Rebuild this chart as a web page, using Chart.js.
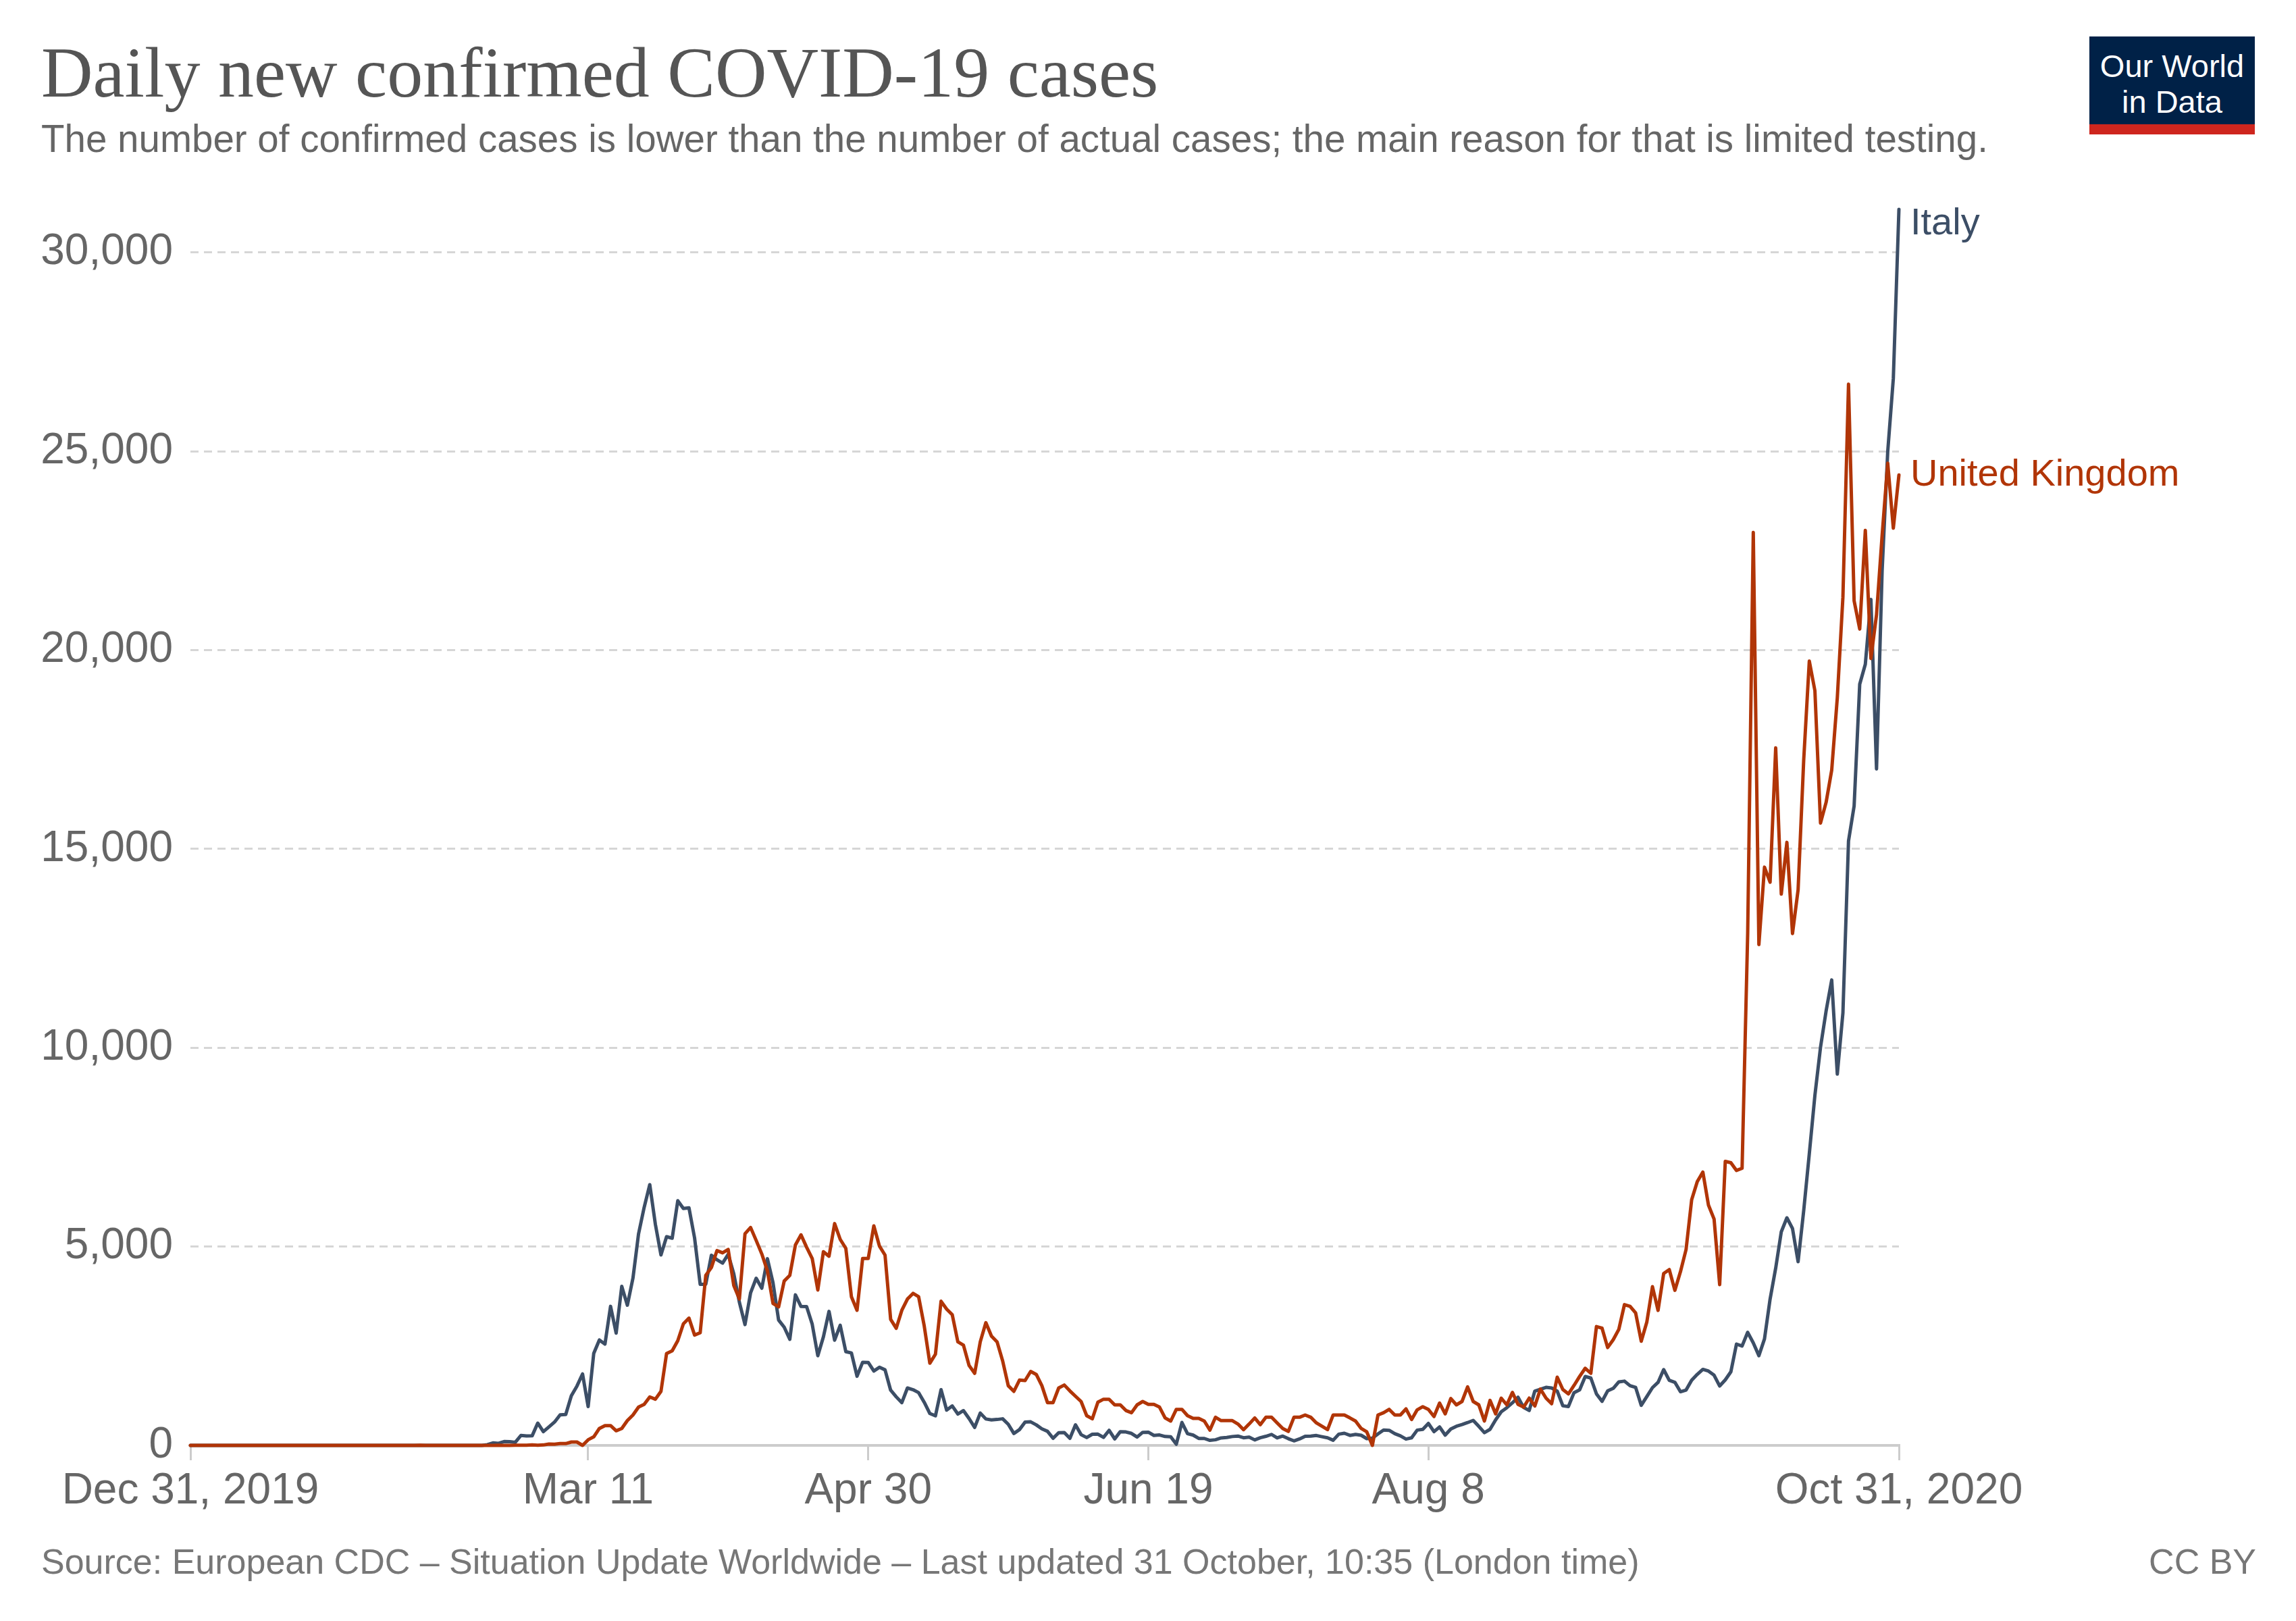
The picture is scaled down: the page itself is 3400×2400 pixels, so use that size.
<!DOCTYPE html>
<html>
<head>
<meta charset="utf-8">
<title>Daily new confirmed COVID-19 cases</title>
<script src="https://cdn.jsdelivr.net/npm/chart.js@4.4.1/dist/chart.umd.min.js"></script>
<style>
  html,body{margin:0;padding:0;background:#fff;}
  body{width:3400px;height:2400px;position:relative;overflow:hidden;font-family:"Liberation Sans",Arial,sans-serif;}
  #chart{position:absolute;left:0;top:0;}
  .txt{position:absolute;white-space:nowrap;line-height:1;}
  #title{left:61px;top:55px;font-family:"Liberation Serif",serif;font-size:106px;color:#555;}
  #subtitle{left:61px;top:178px;font-size:56.5px;color:#666;}
  #source{left:61px;top:2286px;font-size:52px;color:#777;}
  #licence{right:59px;top:2286px;font-size:52px;color:#777;}
  #logo{position:absolute;left:3094px;top:54px;width:245px;height:130px;background:#002147;border-bottom:15px solid #ce261e;
        color:#fff;font-size:47px;line-height:53px;text-align:center;box-sizing:content-box;}
  #logo div{padding-top:17px;}
</style>
</head>
<body>
<canvas id="chart" width="3400" height="2400"></canvas>
<div class="txt" id="title">Daily new confirmed COVID-19 cases</div>
<div class="txt" id="subtitle">The number of confirmed cases is lower than the number of actual cases; the main reason for that is limited testing.</div>
<div class="txt" id="source">Source: European CDC – Situation Update Worldwide – Last updated 31 October, 10:35 (London time)</div>
<div class="txt" id="licence">CC BY</div>
<div id="logo"><div>Our World<br>in Data</div></div>
<script>
// days counted from Dec 31, 2019 (day 0) to Oct 31, 2020 (day 305)
const tickDays = [0, 71, 121, 171, 221, 305];
const tickLabels = ['Dec 31, 2019', 'Mar 11', 'Apr 30', 'Jun 19', 'Aug 8', 'Oct 31, 2020'];
const yTicks = [0, 5000, 10000, 15000, 20000, 25000, 30000];
const seriesNames = ['Italy', 'United Kingdom'];
const seriesColors = ['#3c4e66', '#b13507'];

// daily new confirmed cases, one value per day
const italyCases = [
  0,0,0,0,0,0,0,0,0,0,
  0,0,0,0,0,0,0,0,0,0,
  0,0,0,0,0,0,0,0,0,0,
  0,2,0,0,0,0,0,0,1,0,
  0,0,0,0,0,0,0,0,0,0,
  0,0,0,17,62,53,97,93,78,250,
  238,240,561,347,466,587,769,778,1247,1492,
  1797,977,2313,2651,2547,3497,2823,4000,3526,4207,
  5322,5986,6557,5560,4789,5249,5210,6153,5959,5974,
  5217,4050,4053,4782,4668,4585,4805,4316,3599,3039,
  3836,4204,3951,4694,4092,3153,2972,2667,3786,3493,
  3491,3047,2256,2729,3370,2646,3021,2357,2324,1739,
  2091,2086,1872,1965,1900,1389,1221,1075,1444,1401,
  1327,1083,802,744,1402,888,992,789,875,675,
  451,813,665,642,652,669,531,300,397,584,
  593,516,416,355,178,318,321,177,518,270,
  197,280,283,202,379,163,346,338,301,210,
  329,333,251,262,224,218,30,577,296,259,
  175,174,126,142,187,201,223,235,192,208,
  138,193,229,276,188,234,169,114,163,230,
  233,249,219,190,129,282,306,252,275,255,
  170,181,289,386,379,295,239,159,190,384,
  402,552,347,463,259,412,481,523,574,629,
  479,320,403,642,845,947,1071,1210,953,878,
  1367,1411,1460,1444,1365,996,978,1326,1397,1733,
  1694,1297,1108,1370,1434,1597,1616,1501,1458,1008,
  1229,1452,1585,1907,1638,1587,1350,1392,1640,1786,
  1912,1869,1766,1494,1648,1851,2548,2499,2844,2578,
  2257,2677,3678,4458,5372,5724,5456,4619,5901,7332,
  8804,10010,10925,11705,9338,10874,15199,16079,19143,19644,
  21273,17012,21994,24991,26831,31084
];

const ukCases = [
  0,0,0,0,0,0,0,0,0,0,
  0,0,0,0,0,0,0,0,0,0,
  0,0,0,0,0,0,0,0,0,0,
  0,2,0,0,0,0,0,1,0,0,
  0,4,0,0,1,0,0,0,0,0,
  0,0,0,0,0,4,0,0,3,4,
  5,13,4,11,34,29,46,46,85,85,
  0,142,215,425,498,498,368,425,623,765,
  963,1031,1218,1161,1359,2311,2379,2634,3058,3200,
  2775,2832,4276,4474,4899,4842,4927,4021,3681,5323,
  5480,5153,4814,4389,3568,3483,4134,4276,5040,5295,
  4983,4700,3908,4871,4757,5578,5181,4955,3738,3398,
  4700,4700,5521,5012,4785,3171,2945,3398,3681,3823,
  3738,3002,2067,2294,3625,3426,3285,2605,2520,2010,
  1812,2605,3086,2747,2605,2124,1501,1359,1642,1630,
  1860,1784,1501,1076,1076,1444,1518,1370,1235,1104,
  748,668,1087,1161,1161,1019,1019,878,821,1019,
  1104,1031,1031,963,691,612,906,906,748,680,
  680,612,385,708,623,623,623,538,396,538,
  691,521,708,708,566,425,351,708,708,765,
  708,566,481,396,765,765,765,691,612,425,
  340,0,765,821,906,765,765,918,651,895,
  974,906,725,1065,793,1178,1019,1104,1472,1104,
  1019,612,1133,793,1189,1019,1331,1031,963,1189,
  991,1416,1189,1048,1715,1406,1295,1508,1735,1940,
  1813,2988,2948,2460,2659,2919,3539,3497,3330,2621,
  3105,3991,3395,4322,4422,3899,4368,4926,6178,6634,
  6874,6042,5693,4044,7143,7108,6914,6968,12872,22961,
  12594,14542,14162,17540,13864,15166,12872,13972,17234,19724,
  18980,15650,16171,16982,18804,21331,26688,21242,20530,23012,
  19790,20890,22885,24701,23065,24405
];

Chart.defaults.font.family = "'Liberation Sans', Arial, sans-serif";

const toPoints = arr => arr.map((v, i) => ({x: i, y: v}));

// series names at the right end of each line
const lineLabels = {
  id: 'lineLabels',
  afterDatasetsDraw(chart){
    const {ctx, chartArea} = chart;
    ctx.save();
    ctx.font = "56px 'Liberation Sans', Arial, sans-serif";
    ctx.textAlign = 'left';
    ctx.textBaseline = 'middle';
    chart.data.datasets.forEach((ds, i) => {
      const pts = chart.getDatasetMeta(i).data;
      const last = pts[pts.length - 1];
      ctx.fillStyle = ds.borderColor;
      ctx.fillText(ds.label, chartArea.right + 17, Math.max(last.y, chartArea.top + 22));
    });
    ctx.restore();
  }
};

const lineStyle = {pointRadius: 0, borderWidth: 5, tension: 0, borderJoinStyle: 'round', borderCapStyle: 'round', clip: false};

new Chart(document.getElementById('chart'), {
  type: 'line',
  data: {
    datasets: [
      {label: seriesNames[1], data: toPoints(ukCases), borderColor: seriesColors[1], ...lineStyle},
      {label: seriesNames[0], data: toPoints(italyCases), borderColor: seriesColors[0], ...lineStyle}
    ]
  },
  options: {
    responsive: false,
    animation: false,
    devicePixelRatio: 1,
    layout: {padding: {top: 310, right: 588, left: 0, bottom: 0}},
    plugins: {legend: {display: false}, tooltip: {enabled: false}},
    scales: {
      x: {
        type: 'linear', min: 0, max: italyCases.length - 1,
        afterBuildTicks: s => { s.ticks = tickDays.map(v => ({value: v})); },
        afterFit: s => { s.height = 260; },
        grid: {drawOnChartArea: false, drawTicks: true, tickLength: 22, color: '#cccccc', lineWidth: 3},
        border: {display: true, color: '#cccccc', width: 4},
        ticks: {color: '#666', font: {size: 64}, padding: 8, maxRotation: 0, autoSkip: false,
                callback: v => tickLabels[tickDays.indexOf(v)] || ''}
      },
      y: {
        min: 0, max: Math.max(...italyCases, ...ukCases),
        afterBuildTicks: s => { s.ticks = yTicks.map(v => ({value: v})); },
        afterFit: s => { s.width = 282; },
        grid: {drawTicks: false, lineWidth: 3, color: c => (c.tick && c.tick.value === 0) ? 'rgba(0,0,0,0)' : '#d6d6d6'},
        border: {display: false, dash: [12, 8]},
        ticks: {color: '#666', font: {size: 64}, padding: 26, callback: v => v.toLocaleString('en-US')}
      }
    }
  },
  plugins: [lineLabels]
});
</script>
</body>
</html>
